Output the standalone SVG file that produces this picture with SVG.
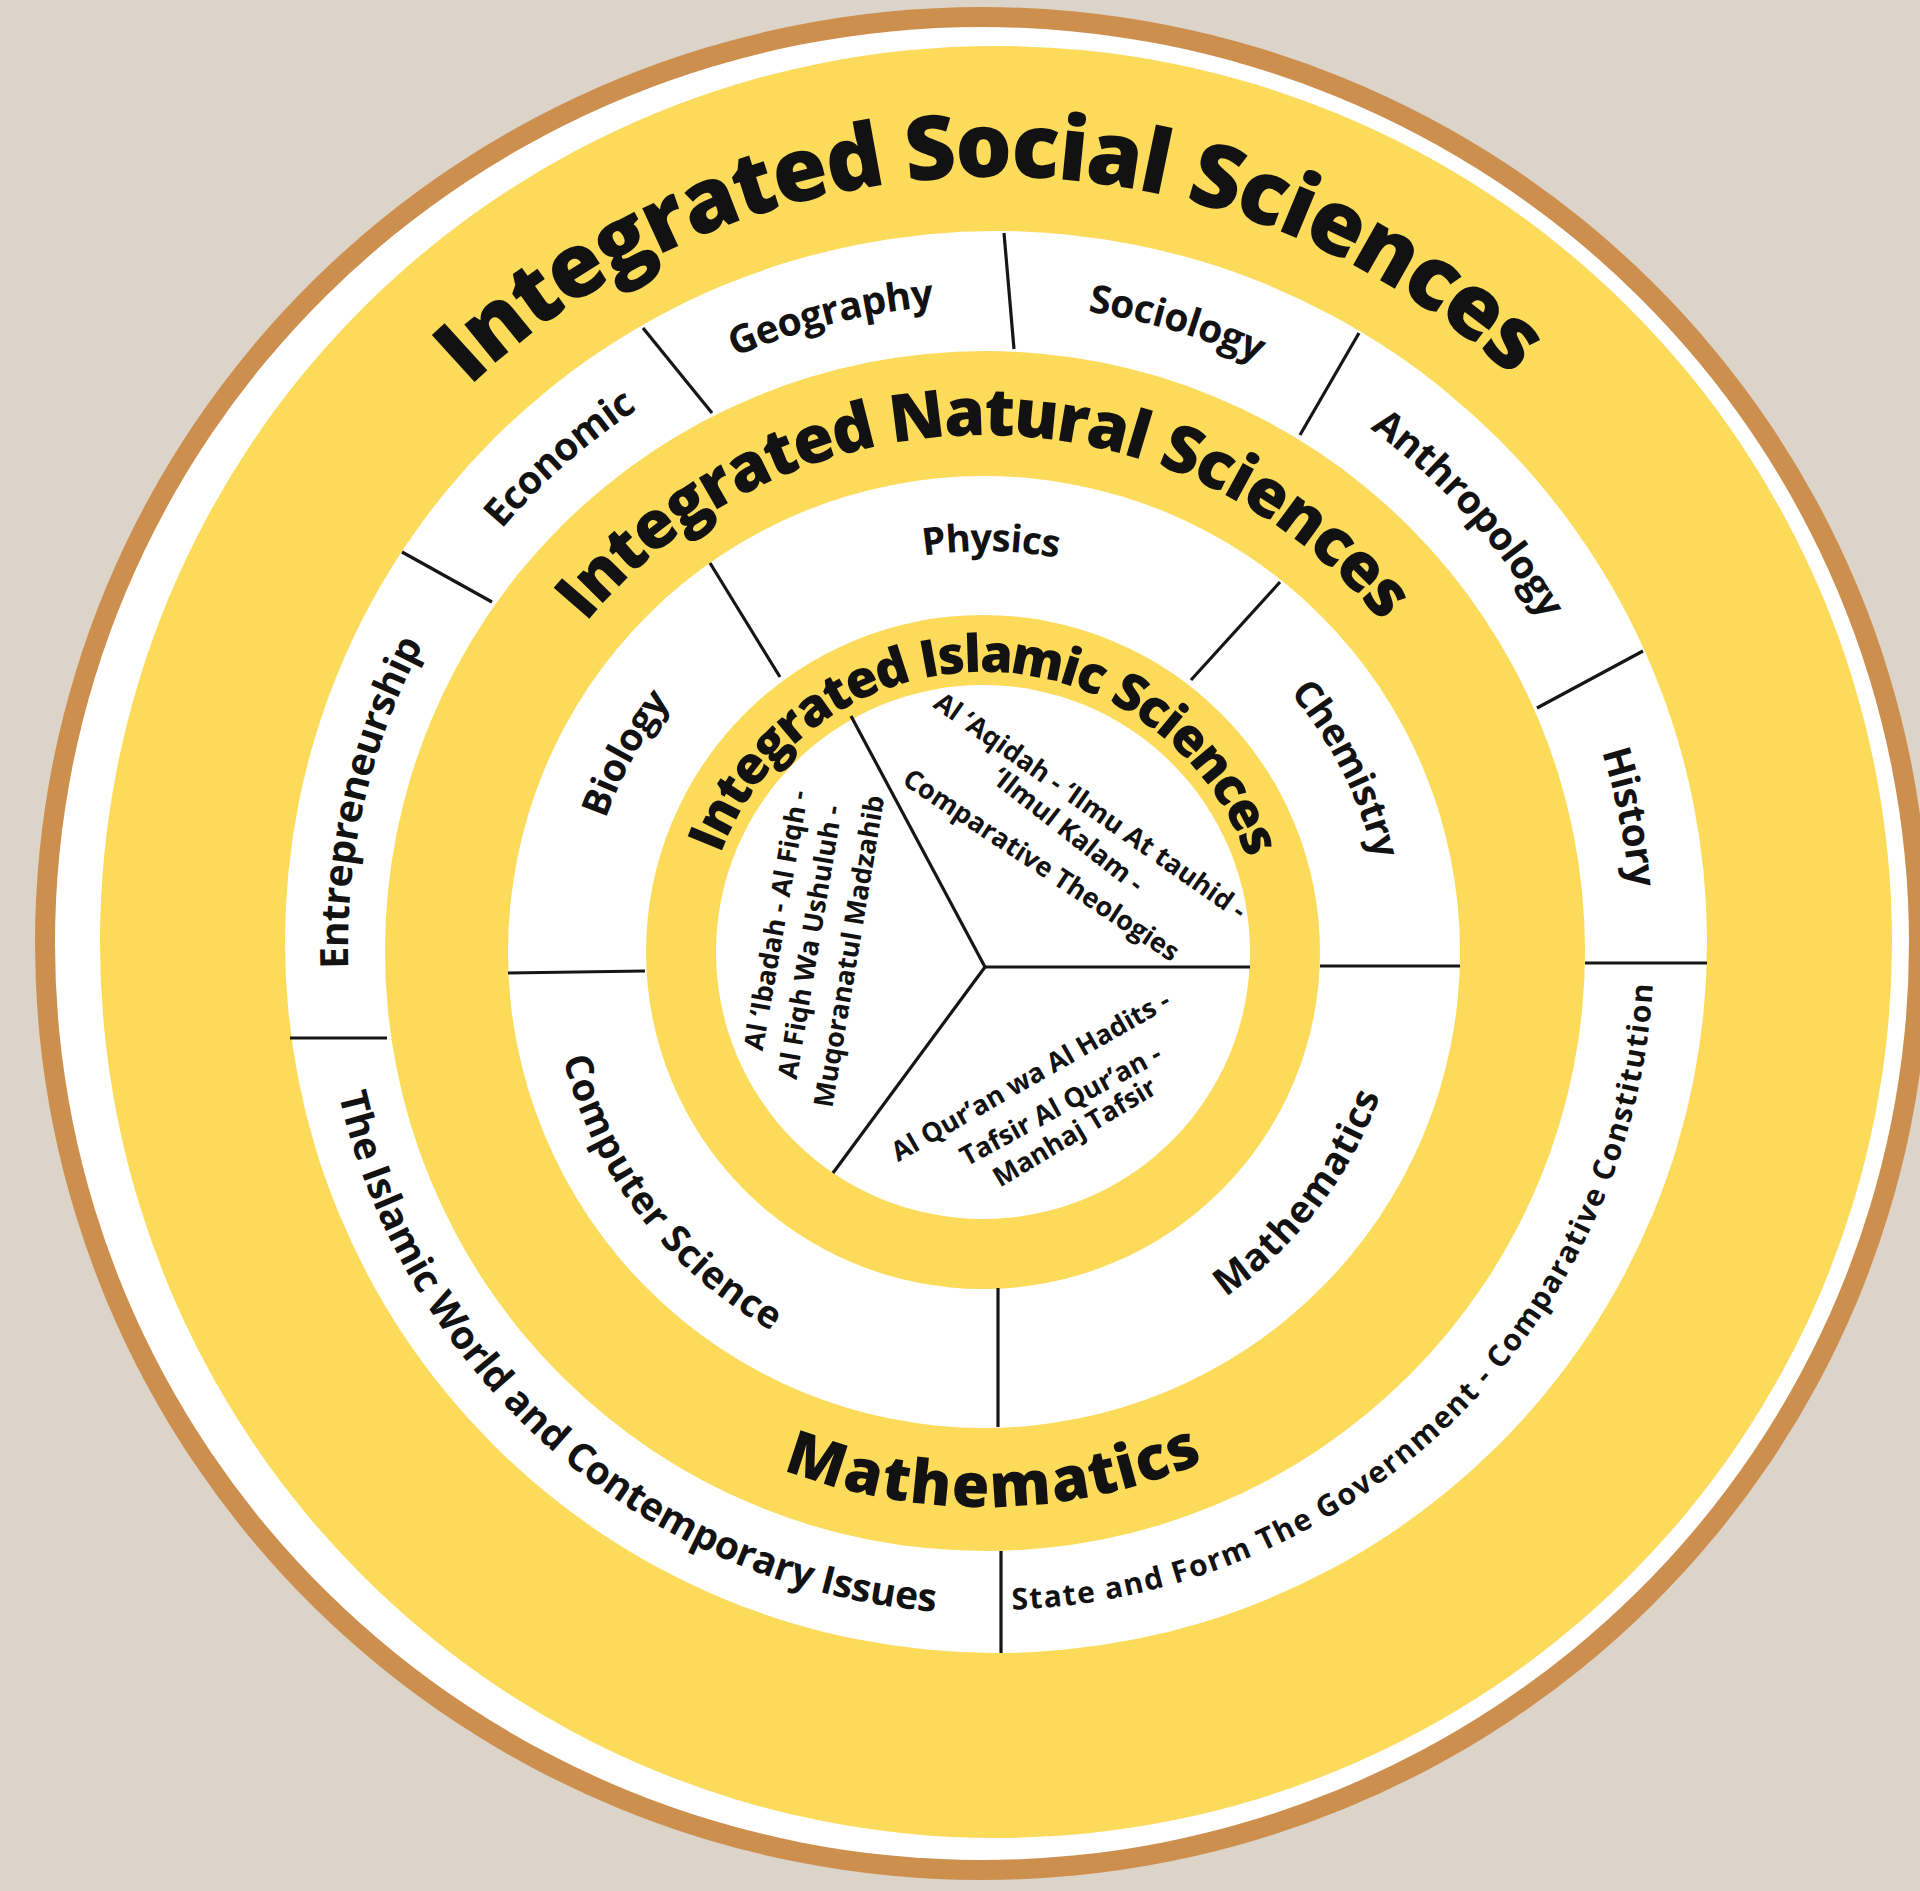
<svg xmlns="http://www.w3.org/2000/svg" width="1920" height="1891" viewBox="0 0 1920 1891">
<style>
  .t { font-family: "Open Sans", "Liberation Sans", sans-serif; fill: #121212; }
  .title { font-weight: 800; }
  .lbl { font-weight: 700; font-size: 39px; }
  .nl { font-weight: 700; font-size: 38px; }
  .sm { font-weight: 700; font-size: 27px; }
  .ln { stroke: #161616; stroke-width: 3.2; fill: none; }
  .yel { fill: #FCDB5B; }
  .wht { fill: #FFFFFF; }
</style>
<defs>
  <path id="arcT" d="M 208.2 1080.9 A 800 800 0 1 1 1783.8 1080.9"/>
  <path id="arcS" d="M 342 1060.3 A 658 658 0 1 1 1638 1060.3"/>
  <path id="arcSb" d="M 347.9 832.8 A 652 652 0 1 0 1632.1 832.8"/>
  <path id="arcNT" d="M 450.2 1045.1 A 542 542 0 1 1 1517.8 1045.1"/>
  <path id="arcNTb" d="M 460.1 858.6 A 532 532 0 1 0 1507.9 858.6"/>
  <path id="arcN" d="M 574.3 1024.2 A 416 416 0 1 1 1393.7 1024.2"/>
  <path id="arcNb" d="M 584.2 881.5 A 406 406 0 1 0 1383.8 881.5"/>
  <path id="arcNb2" d="M 571.4 879.2 A 419 419 0 1 0 1396.6 879.2"/>
  <path id="arcI" d="M 686.6 1004.3 A 301 301 0 1 1 1279.4 1004.3"/>
</defs>

<g id="rings">
  <rect x="0" y="0" width="1920" height="1891" fill="#DCD3C9"/>
  <ellipse cx="982" cy="943.5" rx="947" ry="936.5" fill="#CD8F4E"/>
  <ellipse cx="982" cy="943.5" rx="927" ry="916.5" class="wht"/>
  <circle cx="996" cy="942" r="896" class="yel"/>
  <circle cx="996" cy="942" r="711" class="wht"/>
  <circle cx="985" cy="951" r="600" class="yel"/>
  <circle cx="984" cy="952" r="476" class="wht"/>
  <circle cx="983" cy="952" r="337" class="yel"/>
  <circle cx="983" cy="952" r="267" class="wht"/>
</g>

<g id="connectors">
  <line class="ln" x1="643" y1="328" x2="712" y2="413"/>
  <line class="ln" x1="1004" y1="233" x2="1014" y2="349"/>
  <line class="ln" x1="1359" y1="333" x2="1300" y2="435"/>
  <line class="ln" x1="1643" y1="651" x2="1537" y2="708"/>
  <line class="ln" x1="1585" y1="963" x2="1707" y2="963"/>
  <line class="ln" x1="1001" y1="1551" x2="1001" y2="1653"/>
  <line class="ln" x1="290" y1="1038" x2="387" y2="1038"/>
  <line class="ln" x1="402" y1="552" x2="492" y2="602"/>
  <line class="ln" x1="710" y1="563" x2="780" y2="677"/>
  <line class="ln" x1="1280" y1="582" x2="1191" y2="680"/>
  <line class="ln" x1="1320" y1="966" x2="1460" y2="966"/>
  <line class="ln" x1="998" y1="1288" x2="998" y2="1427"/>
  <line class="ln" x1="508" y1="973" x2="645" y2="971"/>
  <line class="ln" x1="985" y1="967" x2="1250" y2="967"/>
  <line class="ln" x1="985" y1="967" x2="851" y2="716"/>
  <line class="ln" x1="985" y1="967" x2="833" y2="1173"/>
</g>

<g id="node-social-title">
  <text class="t title" font-size="89" text-anchor="middle" dominant-baseline="central" transform="rotate(-0.5 996 942)"><textPath href="#arcT" startOffset="50%">Integrated Social Sciences</textPath></text>
</g>
<g id="node-geography">
  <text class="t lbl" text-anchor="middle" dominant-baseline="central" transform="rotate(-14.2 990 946)"><textPath href="#arcS" startOffset="50%">Geography</textPath></text>
</g>
<g id="node-sociology">
  <text class="t lbl" text-anchor="middle" dominant-baseline="central" transform="rotate(16.7 990 946)"><textPath href="#arcS" startOffset="50%">Sociology</textPath></text>
</g>
<g id="node-anthropology">
  <text class="t lbl" text-anchor="middle" dominant-baseline="central" transform="rotate(47.9 990 946)"><textPath href="#arcS" startOffset="50%">Anthropology</textPath></text>
</g>
<g id="node-history">
  <text class="t lbl" text-anchor="middle" dominant-baseline="central" transform="rotate(78.6 990 946)"><textPath href="#arcS" startOffset="50%">History</textPath></text>
</g>
<g id="node-state">
  <text class="t" font-weight="700" font-size="30" text-anchor="middle" dominant-baseline="central" transform="rotate(-44.3 990 946)"><textPath href="#arcSb" startOffset="50%" textLength="965" lengthAdjust="spacing">State and Form The Government - Comparative Constitution</textPath></text>
</g>
<g id="node-islamic-world">
  <text class="t lbl" font-size="38" text-anchor="middle" dominant-baseline="central" transform="rotate(40.9 990 946)"><textPath href="#arcSb" startOffset="50%" textLength="825" lengthAdjust="spacing">The Islamic World and Contemporary Issues</textPath></text>
</g>
<g id="node-entrepreneurship">
  <text class="t lbl" font-size="37" text-anchor="middle" dominant-baseline="central" transform="rotate(-77 990 946)"><textPath href="#arcS" startOffset="50%">Entrepreneurship</textPath></text>
</g>
<g id="node-economic">
  <text class="t lbl" text-anchor="middle" dominant-baseline="central" transform="rotate(-41.4 990 946)"><textPath href="#arcS" startOffset="50%">Economic</textPath></text>
</g>

<g id="node-natural-title">
  <text class="t title" font-size="66" text-anchor="middle" dominant-baseline="central"><textPath href="#arcNT" startOffset="50%">Integrated Natural Sciences</textPath></text>
</g>
<g id="node-mathematics-title">
  <text class="t title" font-size="61" text-anchor="middle" dominant-baseline="central" transform="rotate(-1 984 951)"><textPath href="#arcNTb" startOffset="50%">Mathematics</textPath></text>
</g>
<g id="node-physics">
  <text class="t nl" text-anchor="middle" dominant-baseline="central" transform="rotate(1 984 952)"><textPath href="#arcN" startOffset="50%">Physics</textPath></text>
</g>
<g id="node-chemistry">
  <text class="t nl" text-anchor="middle" dominant-baseline="central" transform="rotate(63.2 984 952)"><textPath href="#arcN" startOffset="50%">Chemistry</textPath></text>
</g>
<g id="node-biology">
  <text class="t nl" text-anchor="middle" dominant-baseline="central" transform="rotate(-61 984 952)"><textPath href="#arcN" startOffset="50%">Biology</textPath></text>
</g>
<g id="node-mathematics">
  <text class="t nl" text-anchor="middle" dominant-baseline="central" transform="rotate(-52.5 984 952)"><textPath href="#arcNb" startOffset="50%">Mathematics</textPath></text>
</g>
<g id="node-computer-science">
  <text class="t nl" font-size="37" text-anchor="middle" dominant-baseline="central" transform="rotate(52.5 984 952)"><textPath href="#arcNb2" startOffset="50%">Computer Science</textPath></text>
</g>

<g id="node-islamic-title">
  <text class="t title" font-size="52" text-anchor="middle" dominant-baseline="central" transform="rotate(0.5 983 952)"><textPath href="#arcI" startOffset="50%">Integrated Islamic Sciences</textPath></text>
</g>
<g id="node-fiqh">
  <text class="t sm" text-anchor="middle" dominant-baseline="central" transform="translate(775 920) rotate(-80)">Al ‘Ibadah - Al Fiqh -</text>
  <text class="t sm" text-anchor="middle" dominant-baseline="central" transform="translate(809 942) rotate(-80.5)">Al Fiqh Wa Ushuluh -</text>
  <text class="t sm" text-anchor="middle" dominant-baseline="central" transform="translate(848 951) rotate(-80.5)">Muqoranatul Madzahib</text>
</g>
<g id="node-aqidah">
  <text class="t sm" text-anchor="middle" dominant-baseline="central" transform="translate(1091 805) rotate(35)">Al ‘Aqidah - ‘Ilmu At tauhid -</text>
  <text class="t sm" text-anchor="middle" dominant-baseline="central" transform="translate(1069 829) rotate(38)">‘Ilmul Kalam -</text>
  <text class="t sm" text-anchor="middle" dominant-baseline="central" transform="translate(1042 864) rotate(33.5)">Comparative Theologies</text>
</g>
<g id="node-quran">
  <text class="t sm" text-anchor="middle" dominant-baseline="central" transform="translate(1030 1075) rotate(-29.7)">Al Qur’an wa Al Hadits -</text>
  <text class="t sm" text-anchor="middle" dominant-baseline="central" transform="translate(1060 1104) rotate(-28.5)">Tafsir Al Qur’an -</text>
  <text class="t sm" text-anchor="middle" dominant-baseline="central" transform="translate(1074 1131) rotate(-31)">Manhaj Tafsir</text>
</g>
</svg>
